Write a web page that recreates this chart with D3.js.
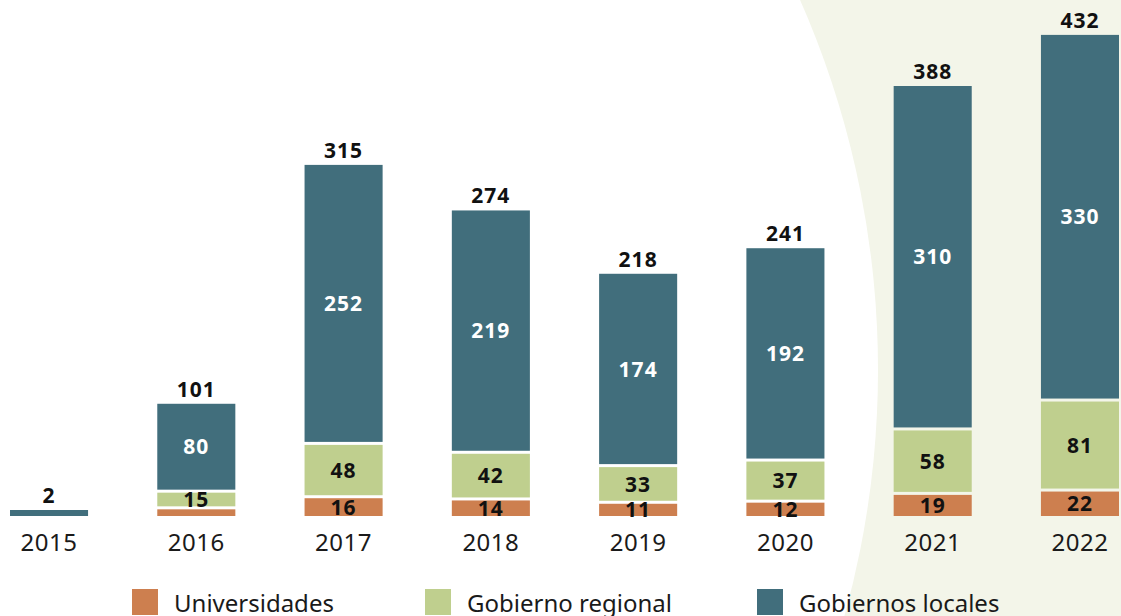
<!DOCTYPE html>
<html lang="es">
<head>
<meta charset="UTF-8">
<title>Proyectos por año</title>
<style>
    body{margin:0;background:#fff;}
    svg{display:block;font-family:"Noto Sans",sans-serif;}
    .year{font-size:24px;fill:#1a1a1a;text-anchor:middle;letter-spacing:0.5px;}
    .tot{font-size:21px;font-weight:bold;fill:#111;text-anchor:middle;letter-spacing:1px;}
    .seg{font-size:21px;font-weight:bold;text-anchor:middle;letter-spacing:1px;}
    .leg{font-size:24px;fill:#1a1a1a;}
</style>
<script src="https://cdn.jsdelivr.net/npm/d3@7"></script>
</head>
<body>
<script>
    // datos
    var years = ["2015","2016","2017","2018","2019","2020","2021","2022"];
    var universidades = [0, 6, 16, 14, 11, 12, 19, 22];
    var gobRegional   = [0, 15, 48, 42, 33, 37, 58, 81];
    var gobLocales    = [2, 80, 252, 219, 174, 192, 310, 330];
    var totals        = [2, 101, 315, 274, 218, 241, 388, 432];
    var seriesNames   = ["Universidades","Gobierno regional","Gobiernos locales"];

    var colors = ["#CD7F4F","#BFCF8E","#416E7C"];
    var labelColors = ["#111","#111","#fff"];

    var width = 1121, height = 616;
    var svg = d3.select("body").append("svg")
        .attr("width", width)
        .attr("height", height);

    // fondo curvo
    svg.append("rect").attr("width", width).attr("height", height).attr("fill", "#F3F5E9");
    svg.append("circle").attr("cx", -39).attr("cy", 370).attr("r", 917).attr("fill", "#fff");

    var table = years.map(function(y, i){
        return {year: y, u: universidades[i], r: gobRegional[i], l: gobLocales[i], total: totals[i]};
    });
    var keys = ["u","r","l"];
    var stacked = d3.stack().keys(keys)(table);

    var x = d3.scaleBand()
        .domain(years)
        .range([10, 1119])
        .paddingInner(0.47)
        .paddingOuter(0);

    var y = d3.scaleLinear()
        .domain([0, 432])
        .range([516, 36]);

    var gap = 3;

    var layers = svg.selectAll("g.layer")
        .data(stacked)
        .enter().append("g")
        .attr("class","layer");

    layers.each(function(layer, li){
        var g = d3.select(this);
        var segs = layer.filter(function(d){ return d[1] - d[0] > 0; });
        g.selectAll("rect")
            .data(segs)
            .enter().append("rect")
            .attr("x", function(d){ return x(d.data.year); })
            .attr("width", x.bandwidth())
            .attr("y", function(d){
                var h = Math.max(y(d[0]) - y(d[1]) - (d[0] > 0 ? gap : 0), 6);
                return y(d[0]) - (d[0] > 0 ? gap : 0) - h;
            })
            .attr("height", function(d){
                return Math.max(y(d[0]) - y(d[1]) - (d[0] > 0 ? gap : 0), 6);
            })
            .attr("fill", colors[li]);

        // etiquetas internas
        g.selectAll("text")
            .data(segs.filter(function(d){ return d[1] - d[0] >= 10 && d.data.year !== "2015"; }))
            .enter().append("text")
            .attr("class","seg")
            .attr("x", function(d){ return x(d.data.year) + x.bandwidth()/2; })
            .attr("y", function(d){ return (y(d[0]) - (d[0] > 0 ? gap : 0) + y(d[1]))/2; })
            .attr("dy","0.36em")
            .attr("fill", labelColors[li])
            .text(function(d){ return d[1] - d[0]; });
    });

    // totales
    svg.selectAll(".tot")
        .data(table)
        .enter().append("text")
        .attr("class","tot")
        .attr("x", function(d){ return x(d.year) + x.bandwidth()/2; })
        .attr("y", function(d){
            var top = Math.min(y(d.u + d.r + d.l), y(0) - 6);
            return top - 7;
        })
        .text(function(d){ return d.total; });

    // eje x
    svg.selectAll(".year")
        .data(years)
        .enter().append("text")
        .attr("class","year")
        .attr("x", function(d){ return x(d) + x.bandwidth()/2; })
        .attr("y", 551)
        .text(function(d){ return d; });

    // leyenda
    var legX = [132, 425, 757];
    var leg = svg.selectAll(".legitem")
        .data(seriesNames)
        .enter().append("g")
        .attr("class","legitem")
        .attr("transform", function(d, i){ return "translate(" + legX[i] + ",589)"; });
    leg.append("rect").attr("width", 26).attr("height", 26)
        .attr("fill", function(d, i){ return colors[i]; });
    leg.append("text").attr("class","leg")
        .attr("x", 42).attr("y", 23)
        .text(function(d){ return d; });
</script>
</body>
</html>
